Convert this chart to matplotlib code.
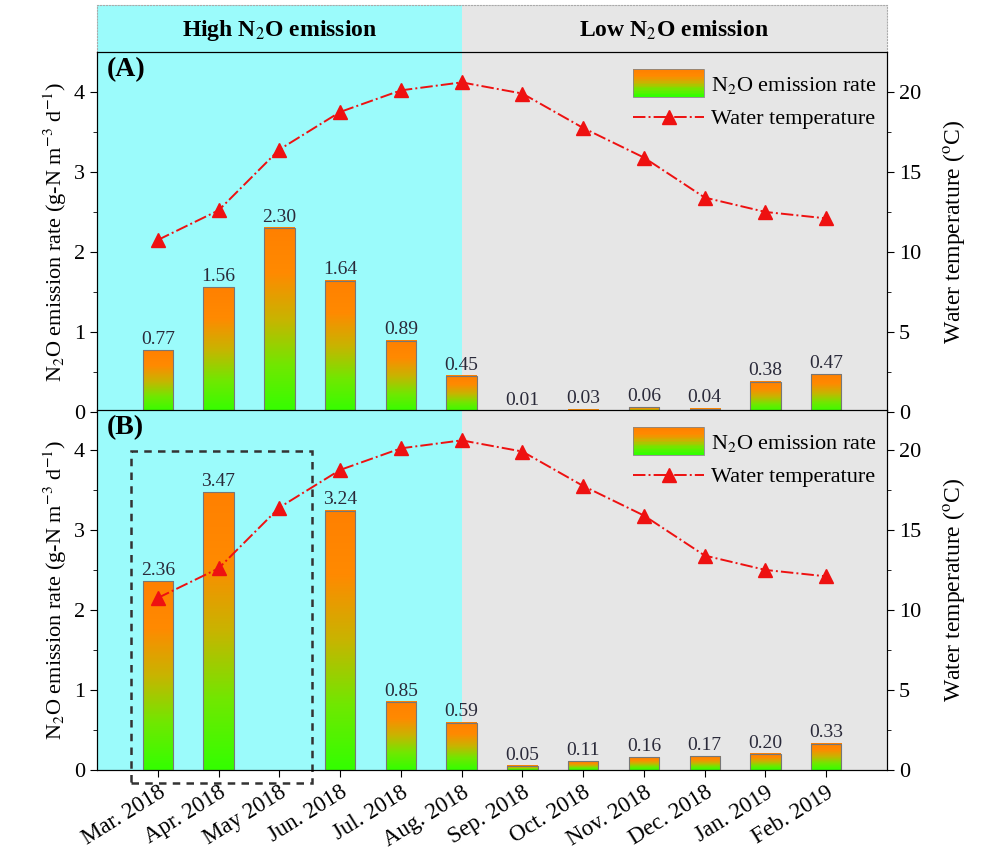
import numpy as np
import matplotlib
matplotlib.use("Agg")
import matplotlib.pyplot as plt
from matplotlib.patches import Rectangle
from matplotlib.legend_handler import HandlerBase
from matplotlib.lines import Line2D
from matplotlib.colors import LinearSegmentedColormap

plt.rcParams['font.family'] = ['Liberation Serif', 'DejaVu Serif']
plt.rcParams['mathtext.fontset'] = 'stix'

months = ['Mar. 2018', 'Apr. 2018', 'May 2018', 'Jun. 2018', 'Jul. 2018', 'Aug. 2018',
          'Sep. 2018', 'Oct. 2018', 'Nov. 2018', 'Dec. 2018', 'Jan. 2019', 'Feb. 2019']
rate_a = [0.77, 1.56, 2.30, 1.64, 0.89, 0.45, 0.01, 0.03, 0.06, 0.04, 0.38, 0.47]
rate_b = [2.36, 3.47, 0.0, 3.24, 0.85, 0.59, 0.05, 0.11, 0.16, 0.17, 0.20, 0.33]
labels_b = ['2.36', '3.47', '', '3.24', '0.85', '0.59', '0.05', '0.11', '0.16', '0.17', '0.20', '0.33']
temp = [10.75, 12.6, 16.4, 18.75, 20.1, 20.6, 19.9, 17.75, 15.9, 13.4, 12.5, 12.1]

CYAN = '#9bfbfb'
GREY = '#e6e6e6'
RED = '#ee1111'
cmap = LinearSegmentedColormap.from_list(
    'og', [(0, '#33ff00'), (0.25, '#70e800'), (0.5, '#c8b400'), (0.75, '#ff8a00'), (1, '#ff8000')])
grad = np.linspace(0, 1, 256).reshape(-1, 1)


class GradHandler(HandlerBase):
    def create_artists(self, legend, orig, x0, y0, w, h, fs, trans):
        arts = []
        n = 20
        H = 1.25 * fs
        yb = y0 + h / 2 - H / 2
        for i in range(n):
            r = Rectangle((x0, yb + H * i / n), w, H / n, color=cmap(i / (n - 1)),
                          lw=0, transform=trans)
            arts.append(r)
        arts.append(Rectangle((x0, yb), w, H, fill=False, ec='#888888', lw=0.6, transform=trans))
        return arts


fig = plt.figure(figsize=(9.87, 8.56), dpi=100)
L, R = 0.0983, 0.8987
x = np.arange(len(months))
w = 0.5

# header band
hx = fig.add_axes([L, 0.9393, R - L, 0.0549])
hx.set_xlim(-1, 12)
hx.set_ylim(0, 1)
hx.axvspan(-1, 5, color=CYAN, lw=0)
hx.axvspan(5, 12, color=GREY, lw=0)
for s in hx.spines.values():
    s.set_linestyle(':')
    s.set_color('#aaaaaa')
    s.set_linewidth(0.8)
hx.spines['bottom'].set_visible(False)
hx.set_xticks([])
hx.set_yticks([])
hx.text(2, 0.45, 'High N$_2$O emission', ha='center', va='center', fontsize=17, fontweight='bold')
hx.text(8.5, 0.45, 'Low N$_2$O emission', ha='center', va='center', fontsize=17, fontweight='bold')

panels = [(0.5187, rate_a, ['%.2f' % v for v in rate_a], '(A)'),
          (0.1005, rate_b, labels_b, '(B)')]

for bottom, vals, labs, tag in panels:
    ax = fig.add_axes([L, bottom, R - L, 0.4206])
    ax.axvspan(-1, 5, color=CYAN, lw=0, zorder=0)
    ax.axvspan(5, 12, color=GREY, lw=0, zorder=0)
    for xi, v, lab in zip(x, vals, labs):
        if v > 0:
            ax.imshow(grad, extent=[xi - w / 2, xi + w / 2, 0, v], origin='lower',
                      cmap=cmap, aspect='auto', zorder=2)
            ax.add_patch(Rectangle((xi - w / 2, 0), w, v, fill=False, ec='#777777', lw=0.8, zorder=3))
        if lab:
            ax.text(xi, v + 0.03, lab, ha='center', va='bottom', fontsize=14, color='#2a2a3a', zorder=4)
    ax.set_xlim(-1, 12)
    ax.set_ylim(0, 4.5)
    ax.set_yticks([0, 1, 2, 3, 4])
    ax.set_yticks(np.arange(0.5, 4.5, 1), minor=True)
    ax.set_xticks(x)
    ax.tick_params(axis='both', direction='out', labelsize=16, length=5)
    ax.tick_params(axis='y', which='minor', direction='out', length=3)
    ax.set_ylabel('N$_2$O emission rate (g-N m$^{-3}$ d$^{-1}$)', fontsize=16, labelpad=4)
    ax.text(0.012, 0.985, tag, transform=ax.transAxes, ha='left', va='top', fontsize=20,
            fontweight='bold', zorder=5)

    ax2 = ax.twinx()
    ax2.set_ylim(0, 22.5)
    ax2.set_yticks([0, 5, 10, 15, 20])
    ax2.set_yticks(np.arange(2.5, 22.5, 5), minor=True)
    ax2.tick_params(axis='y', direction='out', labelsize=16, length=5)
    ax2.tick_params(axis='y', which='minor', direction='out', length=3)
    ax2.plot(x, temp, color=RED, ls='-.', lw=1.4, marker='^', ms=10, zorder=5)
    ax2.set_ylabel('Water temperature ($^{\\mathrm{o}}$C)', fontsize=17, labelpad=14)

    handles = [Rectangle((0, 0), 1, 1),
               Line2D([], [], color=RED, ls='-.', lw=1.4, marker='^', ms=10)]
    ax2.legend(handles, ['N$_2$O emission rate', 'Water temperature'],
               handler_map={Rectangle: GradHandler()}, loc='upper right',
               bbox_to_anchor=(1.0, 0.965),
               frameon=False, fontsize=16, handlelength=3.2,
               handletextpad=0.3, borderaxespad=0.05, labelspacing=0.6)

    if tag == '(A)':
        ax.set_xticklabels([])
    else:
        ax.set_xticklabels(months, rotation=32, ha='right', rotation_mode='anchor', fontsize=16.5)
        ax.add_patch(Rectangle((-0.44, -0.16), 2.97, 4.15, fill=False, ls=(0, (3, 2.5)), ec='#333333',
                               lw=1.8, clip_on=False, zorder=6))

fig.savefig('out.png', dpi=100)
